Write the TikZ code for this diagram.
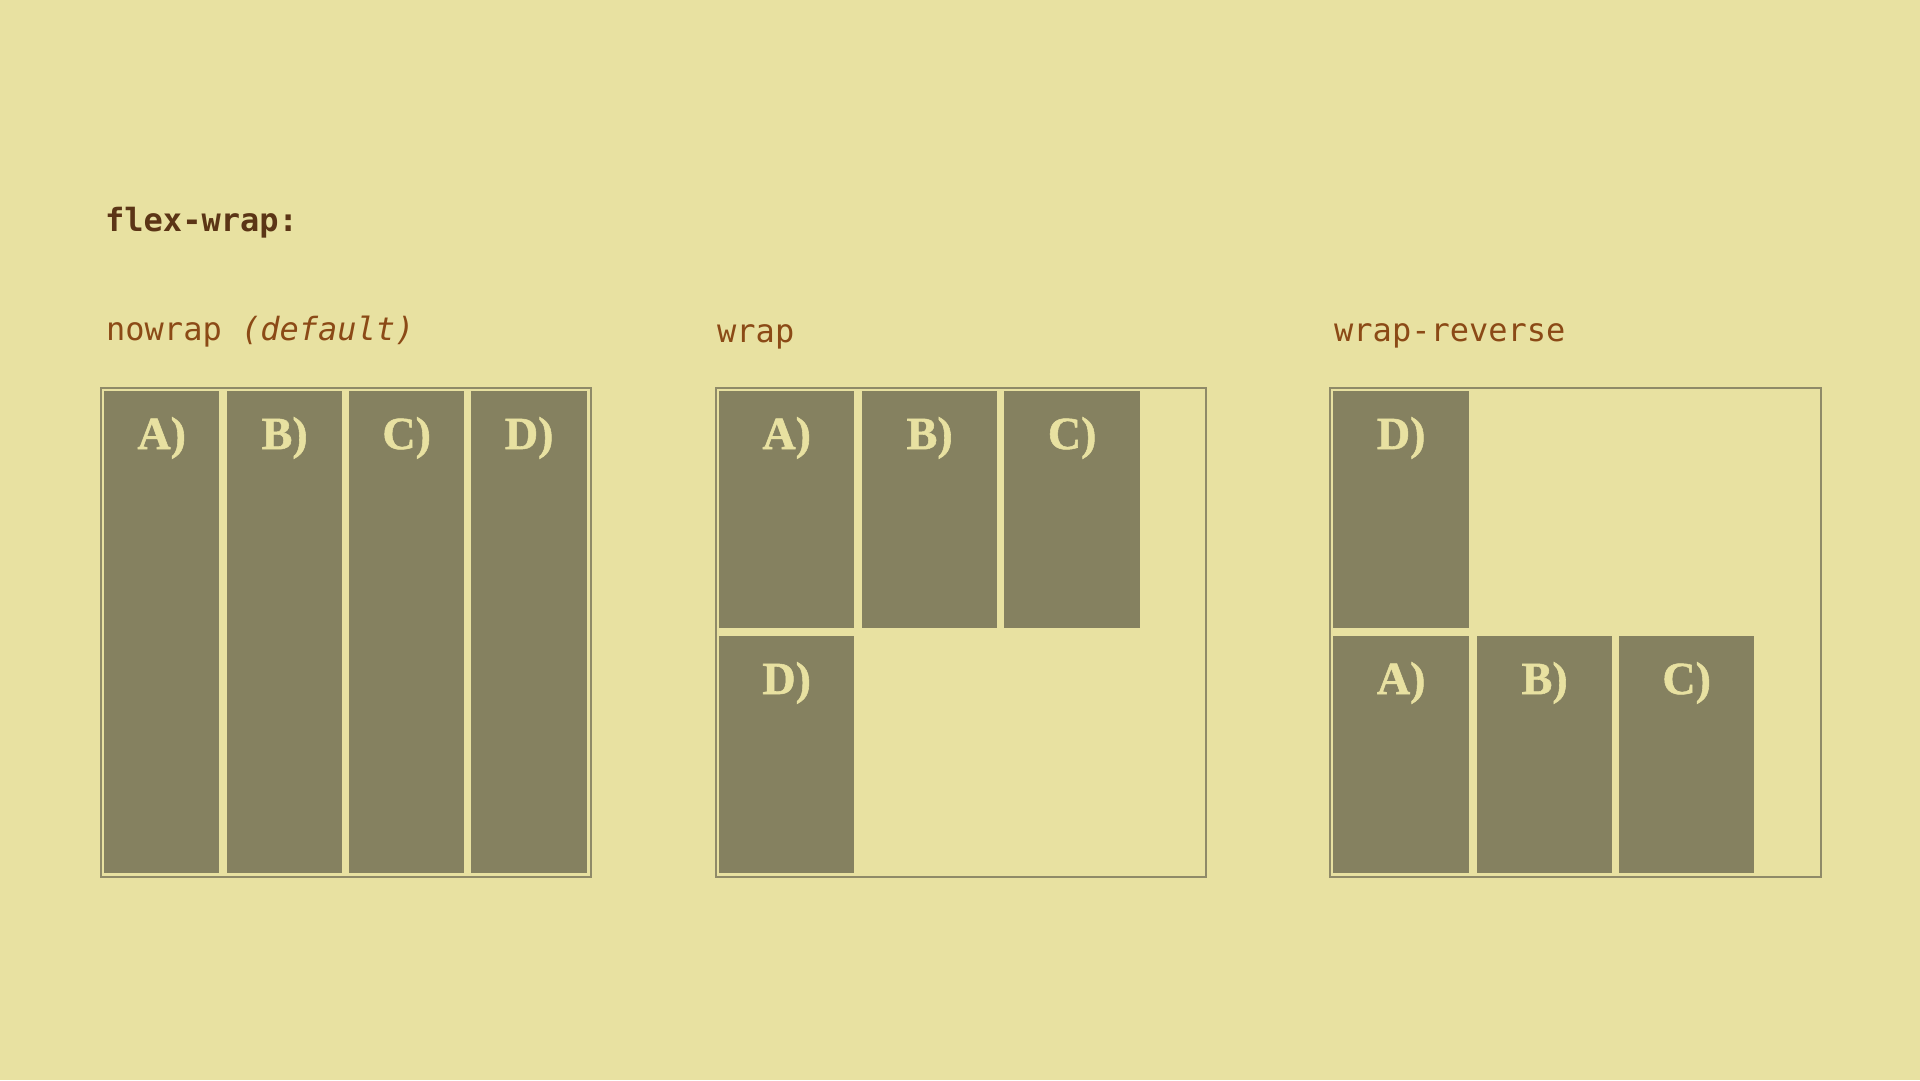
\documentclass[tikz,border=0pt]{standalone}
\usepackage{fontspec}
\setmonofont{DejaVu Sans Mono}
\newfontfamily\lblfont{Liberation Serif}[BoldFeatures={FakeBold=1.2}]
\definecolor{bgc}{HTML}{E8E1A1}
\definecolor{itemc}{HTML}{858160}
\definecolor{borderc}{HTML}{8F8A68}
\definecolor{titlec}{HTML}{5B3516}
\definecolor{subc}{HTML}{8B4A16}
\definecolor{lblc}{HTML}{E8E1A1}
\tikzset{
  container/.style={draw=borderc, line width=2pt, fill=none},
  item/.style={fill=itemc, draw=none, inner sep=0pt, anchor=north west},
  lbl/.style={text=lblc, inner sep=0pt, anchor=base, font=\lblfont\bfseries\fontsize{46}{50}\selectfont},
  title/.style={text=titlec, inner sep=0pt, anchor=base west, font=\ttfamily\bfseries\fontsize{32}{36}\selectfont},
  sub/.style={text=subc, inner sep=0pt, anchor=base west, font=\ttfamily\fontsize{32}{36}\selectfont}
}
\newcommand{\flexitem}[6]{% name, x, y, w, h, label
  \node[item, minimum width=#4pt, minimum height=#5pt] (#1) at (#2,#3) {};
  \node[lbl] (#1l) at ([yshift=-58pt]#1.north) {#6};
}
\begin{document}
\begin{tikzpicture}[x=1pt,y=-1pt]
\useasboundingbox (0,0) rectangle (1920,1080);
\fill[bgc] (0,0) rectangle (1920,1080);

\node[title] (ttl) at (105,231) {flex-wrap:};

% nowrap
\node[sub] (s1) at (106,340) {nowrap \textit{(default)}};
\node[container, minimum width=490pt, minimum height=489pt, inner sep=0pt, anchor=north west] (c1) at (100,387) {};
\flexitem{n1}{104}{391}{115}{482}{A)}
\flexitem{n2}{227}{391}{115}{482}{B)}
\flexitem{n3}{349}{391}{115}{482}{C)}
\flexitem{n4}{471}{391}{116}{482}{D)}

% wrap
\node[sub] (s2) at (717,342) {wrap};
\node[container, minimum width=490pt, minimum height=489pt, inner sep=0pt, anchor=north west] (c2) at (715,387) {};
\flexitem{w1}{719}{391}{135}{237}{A)}
\flexitem{w2}{862}{391}{135}{237}{B)}
\flexitem{w3}{1004}{391}{136}{237}{C)}
\flexitem{w4}{719}{636}{135}{237}{D)}

% wrap-reverse
\node[sub] (s3) at (1334,341) {wrap-reverse};
\node[container, minimum width=491pt, minimum height=489pt, inner sep=0pt, anchor=north west] (c3) at (1329,387) {};
\flexitem{r4}{1333}{391}{136}{237}{D)}
\flexitem{r1}{1333}{636}{136}{237}{A)}
\flexitem{r2}{1477}{636}{135}{237}{B)}
\flexitem{r3}{1619}{636}{135}{237}{C)}
\end{tikzpicture}
\end{document}
